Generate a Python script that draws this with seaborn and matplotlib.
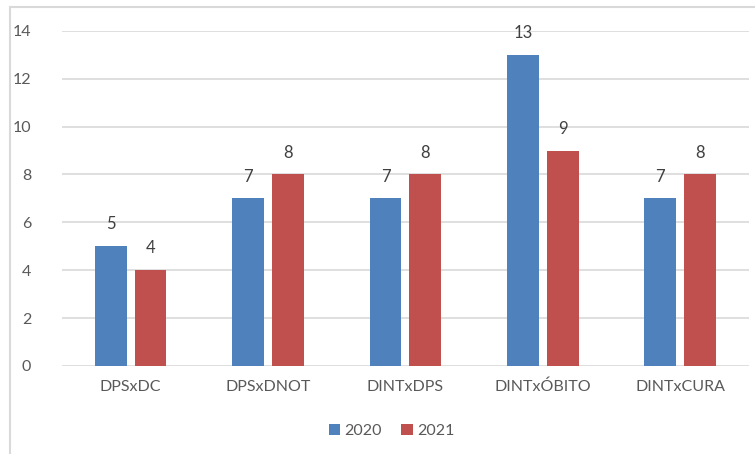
import pandas as pd
import seaborn as sns
import matplotlib.pyplot as plt
from matplotlib.patches import Rectangle

# --- Data ---
categories = ['DPSxDC', 'DPSxDNOT', 'DINTxDPS', 'DINTxÓBITO', 'DINTxCURA']
values_2020 = [5, 7, 7, 13, 7]
values_2021 = [4, 8, 8, 9, 8]
years = ['2020', '2021']

df = pd.DataFrame({
    'categoria': categories * 2,
    'valor': values_2020 + values_2021,
    'ano': [years[0]] * len(categories) + [years[1]] * len(categories),
})

sns.set_style('white')
plt.rcParams['font.family'] = ['Lato', 'DejaVu Sans']

fig = plt.figure(figsize=(7.55, 4.54), dpi=100)
ax = fig.add_axes([0.082, 0.194, 0.910, 0.738])

# outer chart frame (cut at the top like the screenshot)
fig.patches.append(Rectangle((10 / 755, -0.01), 1.0, 1 - 7 / 454 + 0.01,
                             transform=fig.transFigure, fill=False,
                             edgecolor='#D9D9D9', linewidth=1.5))

sns.barplot(data=df, x='categoria', y='valor', hue='ano',
            palette=['#4F81BD', '#C0504D'], width=0.58, gap=0.2,
            saturation=1, linewidth=0, ax=ax, zorder=3)

for cont in ax.containers:
    ax.bar_label(cont, padding=10, fontsize=12, color='#404040')

ax.set_ylim(0, 14)
ax.set_yticks(range(0, 15, 2))
ax.yaxis.grid(True, color='#D9D9D9', linewidth=1.2, zorder=0)
ax.set_axisbelow(True)
for s in ax.spines.values():
    s.set_visible(False)
ax.tick_params(axis='both', length=0, labelsize=11.5, colors='#595959')
ax.tick_params(axis='y', pad=22)
ax.tick_params(axis='x', pad=10)
ax.set_xlabel('')
ax.set_ylabel('')

ax.legend(loc='upper center', bbox_to_anchor=(0.48, -0.13), ncol=2,
          frameon=False, fontsize=11.5, labelcolor='#595959',
          handlelength=0.7, handleheight=0.7, handletextpad=0.3,
          columnspacing=1.2)

plt.savefig('out.png', dpi=100)
plt.close()
